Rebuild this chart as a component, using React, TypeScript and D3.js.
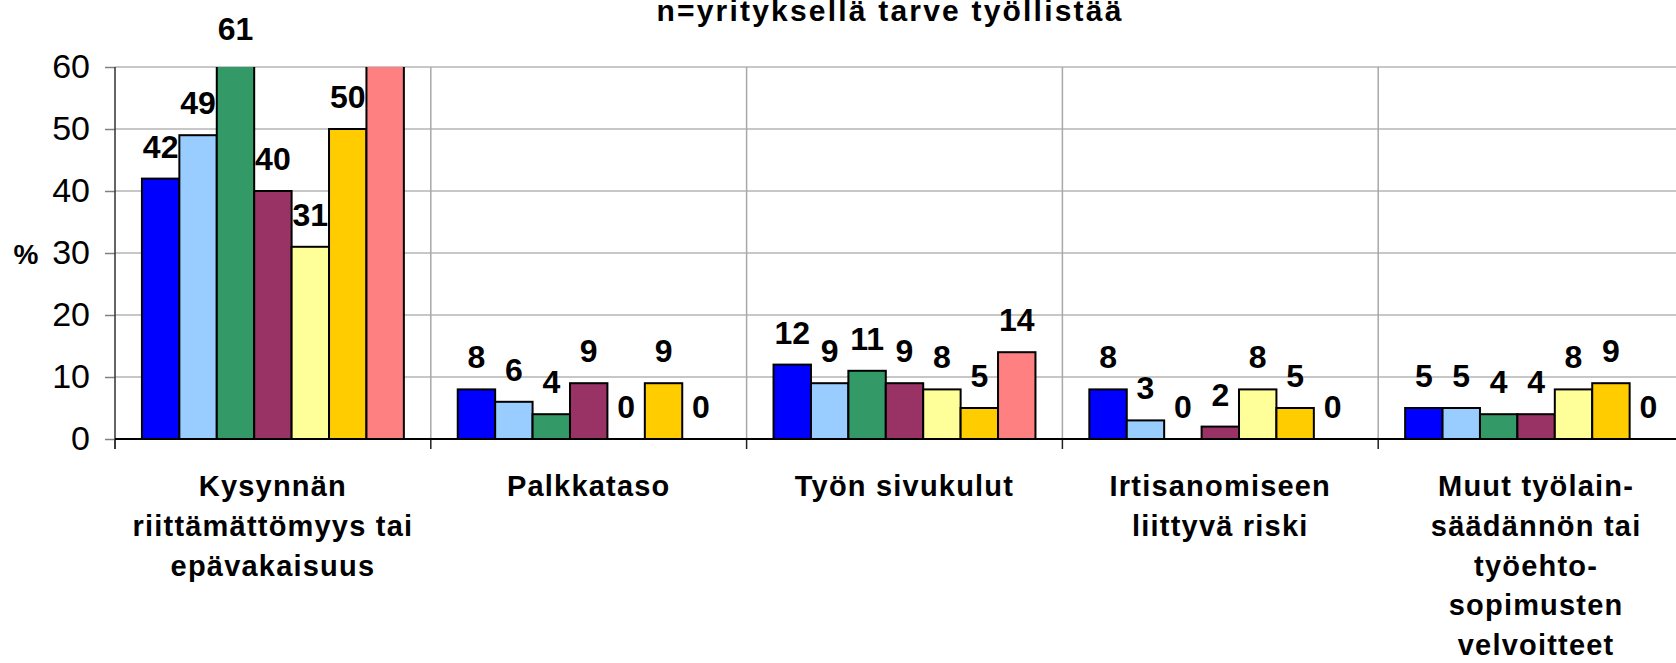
// @ts-nocheck
import React from "react";
import * as d3 from "d3";

const title = "n=yrityksellä tarve työllistää";
const yLabel = "%";
const yTicks = [0, 10, 20, 30, 40, 50, 60];

const categories = [
  "Kysynnän riittämättömyys tai epävakaisuus",
  "Palkkataso",
  "Työn sivukulut",
  "Irtisanomiseen liittyvä riski",
  "Muut työlainsäädännön tai työehtosopimusten velvoitteet",
];
// how the category names wrap under the axis
const categoryLines = [
  ["Kysynnän", "riittämättömyys tai", "epävakaisuus"],
  ["Palkkataso"],
  ["Työn sivukulut"],
  ["Irtisanomiseen", "liittyvä riski"],
  ["Muut työlain-", "säädännön tai", "työehto-", "sopimusten", "velvoitteet"],
];

// seven respondent groups, one value per category (%)
const series1 = [42, 8, 12, 8, 5];
const series2 = [49, 6, 9, 3, 5];
const series3 = [61, 4, 11, 0, 4];
const series4 = [40, 9, 9, 2, 4];
const series5 = [31, 0, 8, 8, 8];
const series6 = [50, 9, 5, 5, 9];
const series7 = [70, 0, 14, 0, 0];

const allSeries = [series1, series2, series3, series4, series5, series6, series7];
const colors = ["#0000FF", "#99CCFF", "#339966", "#993366", "#FFFF99", "#FFCC00", "#FF8080"];

const FONT = "'Liberation Sans', Arial, sans-serif";

const Chart = () => {
  const svgRef = React.useRef(null);
  const width = 1676;
  const height = 663;
  const margin = { left: 115, top: 67 };
  const plotW = 1579;
  const plotH = 372;

  React.useEffect(() => {
    const svgEl = d3.select(svgRef.current);
    svgEl.selectAll("*").remove();
    const svg = svgEl.append("g").attr("transform", `translate(${margin.left},${margin.top})`);

    const x = d3.scaleBand().domain(categories).range([0, plotW]);
    const xs = d3.scaleBand()
      .domain(d3.range(allSeries.length))
      .range([0, x.bandwidth()])
      .paddingOuter(0.72);
    const y = d3.scaleLinear().domain([0, 60]).range([plotH, 0]);

    svgEl.append("defs").append("clipPath").attr("id", "plotclip")
      .append("rect").attr("x", 0).attr("y", 0).attr("width", plotW).attr("height", plotH + 2);

    // horizontal grid
    svg.append("g").selectAll("line").data(yTicks.filter((t) => t > 0)).enter()
      .append("line")
      .attr("x1", 0).attr("x2", plotW)
      .attr("y1", (d) => y(d)).attr("y2", (d) => y(d))
      .attr("stroke", "#b4b4b4").attr("stroke-width", 1.5);

    // vertical category separators
    const seps = categories.slice(1).map((c) => x(c));
    svg.append("g").selectAll("line").data(seps).enter()
      .append("line")
      .attr("x1", (d) => d).attr("x2", (d) => d)
      .attr("y1", 0).attr("y2", plotH)
      .attr("stroke", "#a8a8a8").attr("stroke-width", 1.5);
    svg.append("g").selectAll("line").data([0, ...seps]).enter()
      .append("line")
      .attr("x1", (d) => d).attr("x2", (d) => d)
      .attr("y1", plotH).attr("y2", plotH + 10)
      .attr("stroke", "#222").attr("stroke-width", 1.5);

    // y axis
    const yAxis = d3.axisLeft(y).tickValues(yTicks).tickSize(10).tickPadding(15);
    const yg = svg.append("g").call(yAxis);
    yg.select(".domain").remove();
    yg.selectAll("line").attr("stroke", "#808080").attr("stroke-width", 1.5);
    yg.selectAll("text")
      .attr("font-family", FONT)
      .attr("font-size", 34)
      .attr("fill", "#000");
    svg.append("line")
      .attr("x1", 0).attr("x2", 0).attr("y1", 0).attr("y2", plotH + 10)
      .attr("stroke", "#333").attr("stroke-width", 1.5);

    // bars
    const barG = svg.append("g").attr("clip-path", "url(#plotclip)");
    allSeries.forEach((vals, si) => {
      barG.append("g").selectAll("rect").data(vals).enter()
        .append("rect")
        .attr("x", (d, i) => x(categories[i]) + xs(si))
        .attr("y", (d) => y(d))
        .attr("width", xs.bandwidth())
        .attr("height", (d) => plotH - y(d))
        .attr("fill", colors[si])
        .attr("stroke", "#000")
        .attr("stroke-width", 2)
        .attr("display", (d) => (d === 0 ? "none" : null));
    });

    // x axis line
    svg.append("line")
      .attr("x1", 0).attr("x2", plotW).attr("y1", plotH).attr("y2", plotH)
      .attr("stroke", "#000").attr("stroke-width", 2);

    // value labels (the one above the top edge falls outside the picture, as in the source)
    allSeries.forEach((vals, si) => {
      svg.append("g").selectAll("text").data(vals).enter()
        .append("text")
        .attr("x", (d, i) => x(categories[i]) + xs(si) + xs.bandwidth() / 2)
        .attr("y", (d) => y(d) - 21)
        .attr("text-anchor", "middle")
        .attr("font-family", FONT)
        .attr("font-weight", "bold")
        .attr("font-size", 32)
        .text((d) => d);
    });

    // category labels
    categories.forEach((c, i) => {
      const t = svg.append("text")
        .attr("text-anchor", "middle")
        .attr("font-family", FONT)
        .attr("font-weight", "bold")
        .attr("font-size", 29)
        .attr("letter-spacing", 1.2);
      categoryLines[i].forEach((line, li) => {
        t.append("tspan")
          .attr("x", x(c) + x.bandwidth() / 2)
          .attr("y", plotH + 57 + li * 39.8)
          .text(line);
      });
    });

    // y label
    svgEl.append("text")
      .attr("x", 26).attr("y", margin.top + y(30) + 11)
      .attr("text-anchor", "middle")
      .attr("font-family", FONT)
      .attr("font-weight", "bold")
      .attr("font-size", 28)
      .text(yLabel);

    // title (cut at the top edge, as in the source)
    svgEl.append("text")
      .attr("x", 890).attr("y", 21)
      .attr("text-anchor", "middle")
      .attr("font-family", FONT)
      .attr("font-weight", "bold")
      .attr("font-size", 30)
      .attr("letter-spacing", 2.2)
      .text(title);
  }, []);

  return (
    <svg
      ref={svgRef}
      width={width}
      height={height}
      style={{ position: "absolute", left: 0, top: 0, background: "#fff" }}
    />
  );
};

export default function App() {
  return <Chart />;
}
